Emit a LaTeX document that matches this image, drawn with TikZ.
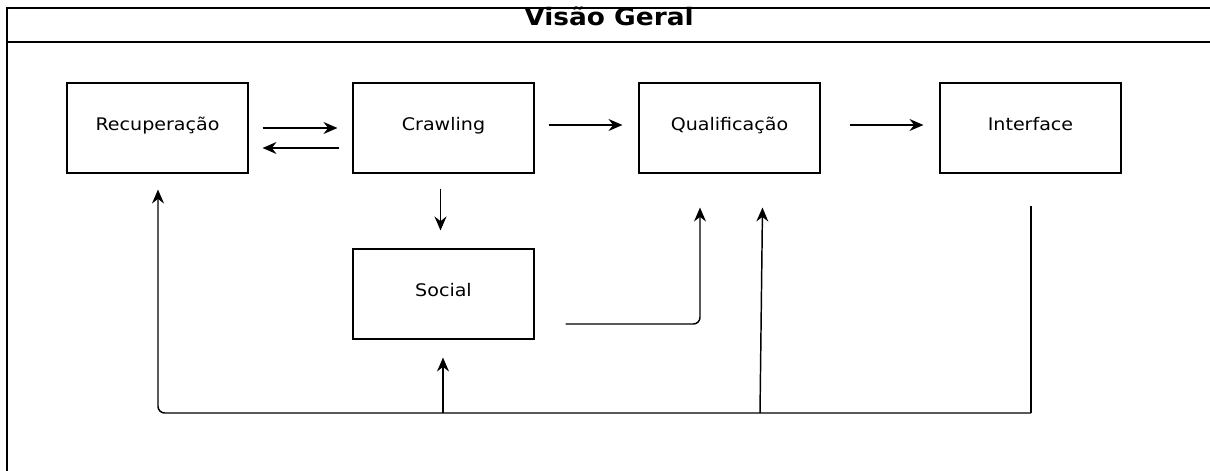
\documentclass[tikz,border=0pt]{standalone}
\usepackage{fontspec}
\setmainfont{DejaVu Sans}[FakeStretch=1.1]
\usetikzlibrary{arrows.meta,calc}
\begin{document}
\begin{tikzpicture}[x=0.75pt,y=-0.75pt,
  stage/.style={draw, line width=0.8pt, minimum width=135.75pt, minimum height=67.5pt,
    inner sep=0pt, text height=0.7em, text depth=0.32em, font=\fontsize{13}{15}\selectfont},
  flow/.style={line width=1.1pt, -{Stealth[length=10.5pt,width=9pt,inset=3.5pt]}},
  link/.style={line width=1.1pt},
  frame/.style={line width=1.1pt}]
\useasboundingbox (0,0) rectangle (1210,471);
% outer frame with its title bar, running past the page edges
\begin{scope}
  \clip (0,0) rectangle (1210,471);
  \draw[frame] (7,8) rectangle (1240,500);
  \draw[frame] (7,42) -- (1240,42);
\end{scope}
\node[font=\fontsize{18}{21}\bfseries\selectfont, anchor=base, inner sep=0pt] (title) at (609,26) {Visão Geral};

% stages
\node[stage] (rec)   at (157.5,128) {Recuperação};
\node[stage] (crawl) at (443.5,128) {Crawling};
\node[stage] (qual)  at (729.5,128) {Qualificação};
\node[stage] (iface) at (1030.5,128) {Interface};
\node[stage] (soc)   at (443.5,294) {Social};

% horizontal flow
\draw[flow] ($(rec.east)+(14,0)$) -- ($(crawl.west)+(-15,0)$);
\draw[flow] ($(crawl.west)+(-13,20)$) -- ($(rec.east)+(14,20)$);
\draw[flow] ($(crawl.east)+(14,-3)$) -- ($(qual.west)+(-16,-3)$);
\draw[flow] ($(qual.east)+(29,-3)$) -- ($(iface.west)+(-16,-3)$);

% crawling feeds social, social feeds qualification
\draw[flow] ($(crawl.south)+(-3,15)$) -- ($(soc.north)+(-3,-18)$);
\coordinate (socout) at ($(soc.east)+(31,30)$);
\draw[flow, rounded corners=5pt] (socout) -| ($(qual.south)+(-29.5,34)$);

% feedback loop from interface
\coordinate (ifout) at ($(iface.south)+(0.5,32)$);
\coordinate (loopr) at (1031,413);
\coordinate (loopsoc) at (443,413);
\coordinate (loopqual) at (760,413);
\draw[link] (ifout) -- (loopr);
\draw[flow, rounded corners=5pt] (loopr) -| ($(rec.south)+(0.5,16)$);
\draw[flow] (loopsoc) -- ($(soc.south)+(-0.5,18)$);
\draw[flow] (loopqual) -- ($(qual.south)+(33,34)$);
\end{tikzpicture}
\end{document}
